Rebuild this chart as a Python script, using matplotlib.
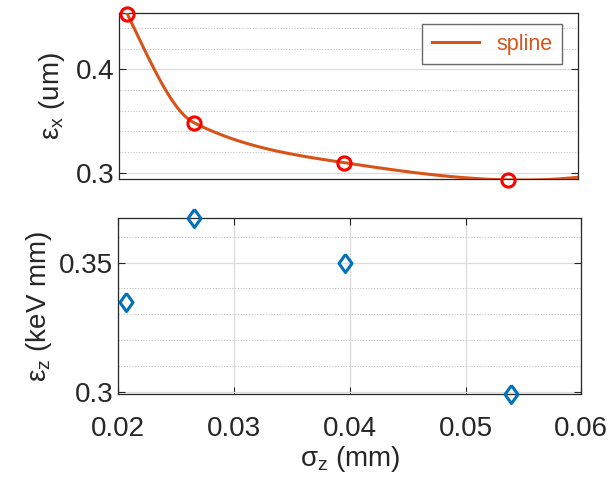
import numpy as np
import matplotlib
matplotlib.use("Agg")
import matplotlib.pyplot as plt
from matplotlib.ticker import MultipleLocator

plt.rcParams['font.family'] = ['Liberation Sans', 'DejaVu Sans']
plt.rcParams['mathtext.fontset'] = 'custom'
plt.rcParams['mathtext.rm'] = 'Liberation Sans'
plt.rcParams['mathtext.it'] = 'Liberation Sans'
plt.rcParams['mathtext.sf'] = 'Liberation Sans'

# bunch length vs. transverse / longitudinal emittance
sigma_z = [0.0207, 0.0265, 0.0396, 0.0539]     # mm
eps_x = [0.4535, 0.3484, 0.3097, 0.2930]       # um
eps_z = [0.3348, 0.3674, 0.3500, 0.2990]       # keV mm

x_ticks = [0.02, 0.03, 0.04, 0.05, 0.06]
ex_ticks = [0.3, 0.4]
ez_ticks = [0.3, 0.35]

TXT = '#262626'
ORANGE = '#D95319'
BLUE = '#0072BD'


def pchip(x, y, xq):
    """shape preserving piecewise cubic (Fritsch-Carlson), end pieces extrapolate"""
    x = np.asarray(x, float)
    y = np.asarray(y, float)
    h = np.diff(x)
    d = np.diff(y) / h
    n = len(x)
    k = np.zeros(n)
    for i in range(1, n - 1):
        if d[i - 1] * d[i] > 0:
            w1 = 2 * h[i] + h[i - 1]
            w2 = h[i] + 2 * h[i - 1]
            k[i] = (w1 + w2) / (w1 / d[i - 1] + w2 / d[i])

    def end_slope(h0, h1, d0, d1):
        s = ((2 * h0 + h1) * d0 - h0 * d1) / (h0 + h1)
        if np.sign(s) != np.sign(d0):
            s = 0.0
        elif np.sign(d0) != np.sign(d1) and abs(s) > abs(3 * d0):
            s = 3 * d0
        return s

    k[0] = end_slope(h[0], h[1], d[0], d[1])
    k[-1] = end_slope(h[-1], h[-2], d[-1], d[-2])

    xq = np.asarray(xq, float)
    j = np.clip(np.searchsorted(x, xq) - 1, 0, n - 2)
    t = xq - x[j]
    c2 = (3 * d[j] - 2 * k[j] - k[j + 1]) / h[j]
    c3 = (k[j] + k[j + 1] - 2 * d[j]) / h[j] ** 2
    return y[j] + k[j] * t + c2 * t ** 2 + c3 * t ** 3


xs = np.linspace(sigma_z[0], 0.06, 500)
ys = pchip(sigma_z, eps_x, xs)

fig = plt.figure(figsize=(6.10, 4.83), dpi=100)
ax1 = fig.add_axes([0.1956, 0.6288, 0.7515, 0.3437])
ax2 = fig.add_axes([0.1939, 0.184, 0.7590, 0.365])


def style(ax):
    for s in ax.spines.values():
        s.set_color(TXT)
        s.set_linewidth(0.9)
    ax.tick_params(which='major', direction='in', length=5, width=0.8,
                   colors=TXT, labelsize=20, left=True, right=True)
    ax.tick_params(which='minor', length=0)
    ax.grid(which='major', axis='y', color='#dcdcdc', lw=0.9)
    ax.grid(which='minor', axis='y', color='#c4c4c4', lw=0.8, ls=(0, (1, 1.5)))
    ax.set_axisbelow(True)


# --- top: eps_x with spline ---
ax1.plot(xs, ys, color=ORANGE, lw=2.2, label='spline', zorder=3)
ax1.plot(sigma_z, eps_x, 'o', mfc='none', mec='#FF0000', ms=9.5, mew=2.2,
         zorder=4, clip_on=False)
ax1.set_xlim(0.02, 0.06)
ax1.set_ylim(0.2936, 0.4542)
ax1.set_xticks([])
ax1.set_yticks(ex_ticks)
ax1.set_yticklabels(['0.3', '0.4'])
ax1.yaxis.set_minor_locator(MultipleLocator(0.02))
style(ax1)
ax1.set_ylabel(r'$\epsilon_{\rm x}$ (um)', fontsize=20, color=TXT, labelpad=6)
leg = ax1.legend(loc='upper right', fontsize=15.5, frameon=True, fancybox=False,
                 handlelength=2.2, borderpad=0.45, borderaxespad=0,
                 bbox_to_anchor=(0.966, 0.935), labelcolor=ORANGE)
leg.get_frame().set_edgecolor('#444444')
leg.get_frame().set_linewidth(1.0)

# --- bottom: eps_z ---
diamond = [(0, 1), (0.72, 0), (0, -1), (-0.72, 0), (0, 1)]
ax2.plot(sigma_z, eps_z, linestyle='none', marker=diamond, mfc='none', mec=BLUE,
         ms=13, mew=2.2, zorder=4, clip_on=False)
ax2.set_xlim(0.02, 0.06)
ax2.set_ylim(min(eps_z), max(eps_z))
ax2.set_xticks(x_ticks)
ax2.set_xticklabels(['0.02', '0.03', '0.04', '0.05', '0.06'])
ax2.set_yticks(ez_ticks)
ax2.set_yticklabels(['0.3', '0.35'])
ax2.yaxis.set_minor_locator(MultipleLocator(0.01))
style(ax2)
ax2.tick_params(which='major', top=True, bottom=True)
ax2.tick_params(axis='x', pad=16)
ax2.grid(which='major', axis='x', color='#dcdcdc', lw=0.9)
ax2.set_ylabel(r'$\epsilon_{\rm z}$ (keV mm)', fontsize=20, color=TXT, labelpad=4)
ax2.set_xlabel(r'$\sigma_{\rm z}$ (mm)', fontsize=20, color=TXT, labelpad=1)

fig.savefig('out.png', dpi=100)
